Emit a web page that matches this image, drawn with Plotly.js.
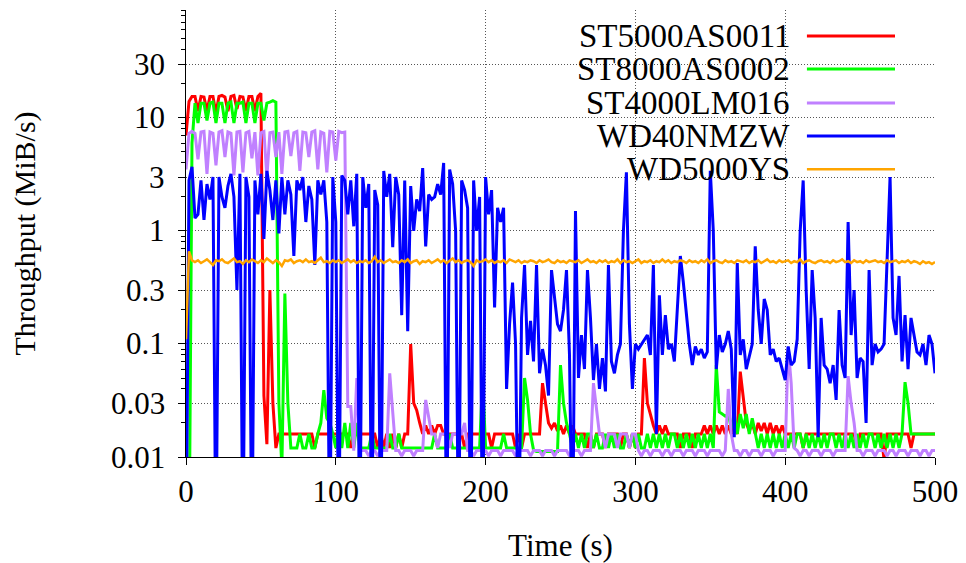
<!DOCTYPE html>
<html><head><meta charset="utf-8">
<script src="https://cdn.plot.ly/plotly-3.0.1.min.js"></script>
<style>html,body{margin:0;padding:0;background:#fff}#chart{width:966px;height:563px}</style>
</head><body><div id="chart"></div>
<script>
// time in seconds
const time = [
0,2,4,6,8,10,12,14,16,18, 20,22,24,26,28,30,32,34,36,38, 40,42,44,46,48,50,52,54,56,58,
60,62,64,66,68,70,72,74,76,78, 80,82,84,86,88,90,92,94,96,98, 100,102,104,106,108,110,112,114,116,118,
120,122,124,126,128,130,132,134,136,138, 140,142,144,146,148,150,152,154,156,158, 160,162,164,166,168,170,172,174,176,178,
180,182,184,186,188,190,192,194,196,198, 200,202,204,206,208,210,212,214,216,218, 220,222,224,226,228,230,232,234,236,238,
240,242,244,246,248,250,252,254,256,258, 260,262,264,266,268,270,272,274,276,278, 280,282,284,286,288,290,292,294,296,298,
300,302,304,306,308,310,312,314,316,318, 320,322,324,326,328,330,332,334,336,338, 340,342,344,346,348,350,352,354,356,358,
360,362,364,366,368,370,372,374,376,378, 380,382,384,386,388,390,392,394,396,398, 400,402,404,406,408,410,412,414,416,418,
420,422,424,426,428,430,432,434,436,438, 440,442,444,446,448,450,452,454,456,458, 460,462,464,466,468,470,472,474,476,478,
480,482,484,486,488,490,492,494,496,498, 500];

const st5000as0011 = [
7,14,15.5,15.5,11.5,15.5,15.3,11.5,15.5,15.5,
11,15.5,15.8,15.3,11.5,15.5,15.8,12,15.5,15.3,
11.5,15.5,15.5,11.5,15.5,16.5,0.035,0.013,0.3,0.03,
0.012,0.016,0.016,0.016,0.016,0.016,0.016,0.016,0.016,0.016,
0.016,0.016,0.016,0.012,0.016,0.016,0.016,0.016,0.016,0.016,
0.016,0.016,0.016,0.016,0.016,0.012,0.016,0.016,0.016,0.016,
0.016,0.016,0.016,0.016,0.012,0.016,0.012,0.016,0.012,0.016,
0.012,0.016,0.012,0.016,0.016,0.1,0.03,0.026,0.02,0.016,
0.019,0.016,0.019,0.016,0.019,0.019,0.016,0.016,0.016,0.016,
0.016,0.016,0.016,0.012,0.016,0.016,0.016,0.016,0.016,0.016,
0.016,0.016,0.012,0.016,0.016,0.016,0.016,0.016,0.016,0.016,
0.012,0.016,0.012,0.016,0.016,0.016,0.016,0.016,0.016,0.045,
0.03,0.02,0.018,0.02,0.017,0.019,0.016,0.019,0.016,0.019,
0.016,0.016,0.016,0.016,0.012,0.016,0.012,0.016,0.016,0.016,
0.012,0.016,0.016,0.016,0.016,0.012,0.016,0.016,0.012,0.016,
0.012,0.016,0.016,0.075,0.03,0.024,0.019,0.016,0.019,0.016,
0.019,0.016,0.016,0.016,0.016,0.012,0.016,0.016,0.016,0.012,
0.016,0.016,0.016,0.019,0.016,0.019,0.016,0.019,0.016,0.019,
0.016,0.019,0.016,0.019,0.016,0.057,0.033,0.02,0.017,0.02,
0.016,0.02,0.017,0.02,0.016,0.02,0.016,0.019,0.016,0.019,
0.016,0.016,0.016,0.016,0.016,0.016,0.012,0.016,0.016,0.016,
0.016,0.016,0.016,0.016,0.016,0.016,0.016,0.016,0.016,0.016,
0.016,0.016,0.016,0.016,0.012,0.016,0.016,0.016,0.016,0.016,
0.016,0.016,0.016,0.0095,0.016,0.016,0.016,0.016,0.016,0.016,
0.016,0.016,0.012,0.016,0.016,0.016,0.016,0.016,0.016,0.016,
0.016];

const st8000as0002 = [
0.001,0.001,6,13.5,9,13.5,13.5,9.5,13.5,13.8,
9,13.5,13.5,9,13.5,13.8,9,13.5,13.5,13.8,
9,13.5,13.5,9,13.5,13.5,9.5,13.5,13.8,14.2,
13.8,0.03,0.008,0.28,0.03,0.012,0.012,0.012,0.016,0.012,
0.012,0.016,0.012,0.012,0.016,0.02,0.039,0.022,0.02,0.016,
0.012,0.02,0.012,0.02,0.012,0.02,0.012,0.02,0.012,0.012,
0.012,0.012,0.016,0.012,0.012,0.012,0.012,0.012,0.016,0.012,
0.012,0.016,0.012,0.012,0.012,0.012,0.012,0.012,0.012,0.012,
0.012,0.012,0.012,0.016,0.012,0.012,0.012,0.012,0.016,0.012,
0.012,0.012,0.012,0.012,0.012,0.012,0.012,0.012,0.012,0.05,
0.012,0.012,0.012,0.012,0.012,0.012,0.016,0.012,0.012,0.012,
0.012,0.012,0.012,0.05,0.032,0.016,0.0115,0.0112,0.0112,0.0112,
0.0112,0.0112,0.0112,0.0112,0.0112,0.065,0.03,0.02,0.016,0.012,
0.016,0.012,0.016,0.012,0.016,0.016,0.012,0.016,0.012,0.012,
0.016,0.012,0.016,0.012,0.016,0.012,0.012,0.016,0.012,0.016,
0.012,0.016,0.012,0.012,0.016,0.012,0.016,0.012,0.016,0.012,
0.016,0.012,0.016,0.016,0.012,0.016,0.012,0.016,0.012,0.016,
0.012,0.016,0.012,0.016,0.012,0.016,0.012,0.065,0.025,0.024,
0.023,0.024,0.018,0.024,0.016,0.024,0.018,0.024,0.016,0.022,
0.016,0.012,0.016,0.012,0.016,0.012,0.016,0.012,0.016,0.012,
0.016,0.012,0.016,0.012,0.016,0.016,0.012,0.016,0.012,0.016,
0.012,0.016,0.012,0.016,0.012,0.016,0.016,0.012,0.016,0.012,
0.016,0.012,0.016,0.012,0.016,0.012,0.016,0.012,0.016,0.016,
0.012,0.016,0.012,0.016,0.012,0.016,0.012,0.016,0.012,0.016,
0.046,0.03,0.016,0.016,0.016,0.016,0.016,0.016,0.016,0.016,
0.016];

const st4000lm016 = [
3.5,7.3,7.6,7.3,4.3,7.5,7.6,3.2,7.5,7.3,
3.8,7.5,7.7,4.5,7.5,7.3,3.1,7.5,7.6,3.3,
7.4,7.6,4.4,7.5,3.1,7.4,7.6,3.0,7.4,7.5,
4.5,7.5,3.2,7.5,7.6,4.6,7.4,7.6,3.4,7.5,
7.4,4.5,7.5,7.7,3.5,7.5,7.3,3.3,7.6,7.5,
4.2,7.6,7.4,7.5,0.028,0.028,0.0114,0.05,0.0114,0.0114,
0.0114,0.0102,0.0114,0.0114,0.0102,0.0114,0.0114,0.0114,0.055,0.025,
0.0114,0.0114,0.0102,0.0114,0.0114,0.0114,0.0102,0.0114,0.0114,0.0114,
0.032,0.022,0.016,0.016,0.012,0.016,0.016,0.016,0.012,0.016,
0.016,0.016,0.016,0.02,0.0114,0.0114,0.0102,0.0114,0.0114,0.0114,
0.0114,0.0102,0.0114,0.0114,0.0114,0.0102,0.0114,0.0114,0.0114,0.0114,
0.0102,0.0114,0.0114,0.0114,0.0114,0.0102,0.0114,0.0114,0.0114,0.0102,
0.0114,0.0114,0.0114,0.0102,0.0114,0.0114,0.0114,0.0114,0.0102,0.0114,
0.0114,0.0114,0.0102,0.0114,0.0114,0.0114,0.045,0.026,0.016,0.016,
0.012,0.016,0.016,0.016,0.012,0.016,0.016,0.016,0.012,0.016,
0.016,0.0114,0.0102,0.0114,0.0114,0.0102,0.0114,0.0114,0.0114,0.0102,
0.0114,0.0114,0.0102,0.0114,0.0114,0.0114,0.0102,0.0114,0.0114,0.0114,
0.0102,0.0114,0.0114,0.0114,0.0102,0.0114,0.0114,0.0114,0.0114,0.0102,
0.0114,0.04,0.016,0.0114,0.0114,0.0102,0.0114,0.0114,0.0102,0.0114,
0.0114,0.0114,0.0102,0.0114,0.0114,0.0114,0.0102,0.0114,0.0114,0.0114,
0.0114,0.094,0.045,0.012,0.0114,0.0102,0.0114,0.0114,0.0102,0.0114,
0.0114,0.0114,0.0102,0.0114,0.0114,0.0114,0.0102,0.0114,0.0114,0.0114,
0.0114,0.052,0.03,0.02,0.0114,0.0114,0.0102,0.0114,0.0114,0.0114,
0.0102,0.0114,0.0114,0.0114,0.0102,0.0114,0.0114,0.0102,0.0114,0.0114,
0.0114,0.0102,0.0114,0.0114,0.0114,0.0102,0.0114,0.0114,0.0102,0.0114,
0.0114];

const wd40nmzw = [
0.001,2.8,3.7,1.3,1.4,2.8,1.25,2.6,1.9,3.0,
0.001,3.0,2.0,1.6,2.5,3.2,2.0,0.3,3.2,0.001,
3.0,2.0,0.001,2.8,1.4,3.2,0.85,3.4,2.3,1.25,
2.8,0.95,3.0,1.4,2.8,2.1,0.6,2.8,2.3,3.0,
1.2,2.5,1.9,0.5,2.8,2.1,2.8,1.2,0.001,3.0,
1.2,0.001,3.1,2.8,1.4,2.8,1.1,3.2,0.001,3.0,
1.6,2.6,0.001,2.3,1.7,0.001,3.4,2.0,3.2,0.72,
3.0,2.1,0.18,2.8,0.13,2.5,1.0,1.9,1.5,3.6,
0.73,2.1,1.9,2.0,2.6,2.1,4.0,0.001,3.5,2.6,
1.0,0.001,2.8,2.3,1.6,0.001,2.8,1.0,2.0,0.001,
3.0,1.4,2.3,0.21,1.6,1.2,1.6,0.04,0.15,0.35,
0.1,0.001,0.17,0.5,0.08,0.16,0.07,0.5,0.055,0.09,
0.065,0.035,0.45,0.25,0.15,0.13,0.2,0.45,0.08,0.001,
1.5,0.05,0.12,0.06,0.45,0.17,0.048,0.1,0.04,0.075,
0.038,0.5,0.07,0.055,0.08,0.1,1.0,3.3,0.15,0.04,
0.1,0.09,0.1,0.11,0.12,0.08,0.5,0.016,0.27,0.08,
0.18,0.09,0.1,0.07,0.2,0.6,0.35,0.18,0.1,0.065,
0.095,0.08,0.09,0.075,0.085,3.4,1.0,0.06,0.12,0.085,
0.1,0.13,0.09,0.015,0.52,0.08,0.11,0.06,0.08,0.1,
0.73,0.2,0.1,0.25,0.2,0.08,0.09,0.07,0.075,0.06,
0.048,0.095,0.065,0.07,0.11,1.0,2.8,0.3,0.06,0.45,
0.17,0.015,0.17,0.065,0.06,0.045,0.065,0.032,0.2,0.065,
0.05,1.2,0.12,0.3,0.05,0.075,0.07,0.02,0.45,0.065,
0.1,0.085,0.09,0.1,0.5,3.0,0.17,0.12,0.4,0.07,
0.18,0.06,0.17,0.12,0.085,0.08,0.1,0.065,0.12,0.1,
0.055];

const wd5000ys = [
0.11,0.66,0.55,0.53,0.55,0.52,0.54,0.56,0.53,0.5,
0.55,0.54,0.56,0.53,0.52,0.55,0.57,0.53,0.54,0.51,
0.55,0.53,0.56,0.54,0.52,0.55,0.53,0.57,0.54,0.52,
0.55,0.53,0.49,0.55,0.54,0.56,0.52,0.54,0.55,0.53,
0.56,0.53,0.54,0.52,0.55,0.58,0.53,0.54,0.52,0.55,
0.53,0.55,0.52,0.54,0.56,0.53,0.55,0.52,0.54,0.53,
0.55,0.52,0.54,0.59,0.53,0.55,0.52,0.54,0.56,0.53,
0.54,0.52,0.55,0.53,0.56,0.52,0.54,0.55,0.51,0.54,
0.53,0.55,0.52,0.54,0.56,0.53,0.55,0.52,0.54,0.57,
0.53,0.55,0.52,0.54,0.55,0.53,0.49,0.55,0.53,0.54,
0.56,0.53,0.55,0.52,0.54,0.53,0.55,0.52,0.56,0.54,
0.53,0.55,0.52,0.54,0.53,0.55,0.54,0.52,0.55,0.53,
0.54,0.56,0.53,0.52,0.55,0.53,0.54,0.52,0.55,0.54,
0.53,0.55,0.52,0.54,0.56,0.53,0.54,0.52,0.55,0.53,
0.55,0.52,0.54,0.53,0.56,0.52,0.55,0.53,0.54,0.52,
0.54,0.56,0.52,0.54,0.53,0.55,0.52,0.54,0.53,0.56,
0.53,0.55,0.52,0.54,0.53,0.55,0.54,0.52,0.55,0.53,
0.54,0.52,0.55,0.53,0.56,0.52,0.54,0.55,0.53,0.52,
0.55,0.53,0.54,0.52,0.55,0.54,0.53,0.55,0.52,0.54,
0.53,0.55,0.52,0.54,0.56,0.53,0.54,0.52,0.55,0.53,
0.54,0.55,0.52,0.54,0.53,0.56,0.52,0.54,0.55,0.53,
0.52,0.54,0.55,0.53,0.54,0.52,0.55,0.53,0.54,0.56,
0.53,0.54,0.52,0.55,0.53,0.54,0.52,0.55,0.53,0.54,
0.55,0.53,0.54,0.52,0.55,0.53,0.54,0.55,0.52,0.54,
0.53,0.55,0.52,0.54,0.53,0.51,0.54,0.52,0.53,0.51,
0.53];

const seriesNames = ['ST5000AS0011','ST8000AS0002','ST4000LM016','WD40NMZW','WD5000YS'];
const seriesValues = [st5000as0011, st8000as0002, st4000lm016, wd40nmzw, wd5000ys];
const seriesColors = ['#ff0000','#00ff00','#c080ff','#0000ff','#ffa500'];
const seriesWidths = [3,3,3,3,2.5];

const yTickVals = [0.01,0.03,0.1,0.3,1,3,10,30];
const yTickText = ['0.01','0.03','0.1','0.3','1','3','10','30'];
const xTickVals = [0,100,200,300,400,500];
const xTickText = ['0','100','200','300','400','500'];

const FONT = 'Liberation Serif';

const traces = seriesNames.map((n,i)=>({
  type:'scatter', mode:'lines', name:n, x:time, y:seriesValues[i],
  line:{color:seriesColors[i], width:seriesWidths[i]}, showlegend:false, hoverinfo:'skip'
}));

// y tick labels placed a little farther from the axis, as in the gnuplot original
const annotations = yTickVals.map((v,i)=>({
  xref:'paper', yref:'y', x:-0.0254, y:Math.log10(v), xanchor:'right', yanchor:'middle',
  text:yTickText[i], showarrow:false, font:{family:FONT, size:31, color:'#000'}
}));

// manual gnuplot-style key: text right, sample line on the right
const keyTextX = 0.809, keyLineX0 = 0.829, keyLineX1 = 0.9466;
const keyRowsY = [0.9418, 0.868, 0.792, 0.718, 0.644];
seriesNames.forEach((n,i)=>annotations.push({
  xref:'paper', yref:'paper', x:keyTextX, y:keyRowsY[i], xanchor:'right', yanchor:'middle',
  text:n, showarrow:false, font:{family:FONT, size:33, color:'#000'}
}));
const shapes = [{type:'rect', xref:'paper', yref:'paper', x0:0.486, x1:0.9706, y0:0.6107, y1:0.9821,
  fillcolor:'#ffffff', line:{width:0}, layer:'between'}];
seriesNames.forEach((n,i)=>shapes.push({type:'line', xref:'paper', yref:'paper',
  x0:keyLineX0, x1:keyLineX1, y0:keyRowsY[i], y1:keyRowsY[i],
  line:{color:seriesColors[i], width:seriesWidths[i]}, layer:'above'}));

const layout = {
  width:966, height:563,
  margin:{l:186, r:31, t:10, b:106},
  paper_bgcolor:'#fff', plot_bgcolor:'#fff',
  font:{family:FONT, size:31, color:'#000'},
  showlegend:false,
  xaxis:{range:[0,500], tickvals:xTickVals, ticktext:xTickText, ticks:'outside', ticklen:7, tickcolor:'#000',
    showline:true, linecolor:'#000', linewidth:1, zeroline:false,
    showgrid:true, gridcolor:'#555', griddash:'1px,2px', gridwidth:1,
    tickfont:{family:FONT, size:31, color:'#000'},
    title:{text:'Time (s)', font:{family:FONT, size:31, color:'#000'}, standoff:26}},
  yaxis:{type:'log', range:[-2, 1.955], tickvals:yTickVals, ticks:'outside', ticklen:7, tickcolor:'#000',
    showticklabels:false,
    showline:true, linecolor:'#000', linewidth:1, zeroline:false,
    showgrid:true, gridcolor:'#555', griddash:'1px,2px', gridwidth:1,
    minor:{ticks:'outside', ticklen:4, tickcolor:'#000', dtick:'D1', showgrid:false},
    title:{text:'Throughput (MiB/s)', font:{family:FONT, size:30, color:'#000'}, standoff:133}},
  annotations:annotations, shapes:shapes
};

Plotly.newPlot('chart', traces, layout, {displayModeBar:false, staticPlot:true});
</script></body></html>
